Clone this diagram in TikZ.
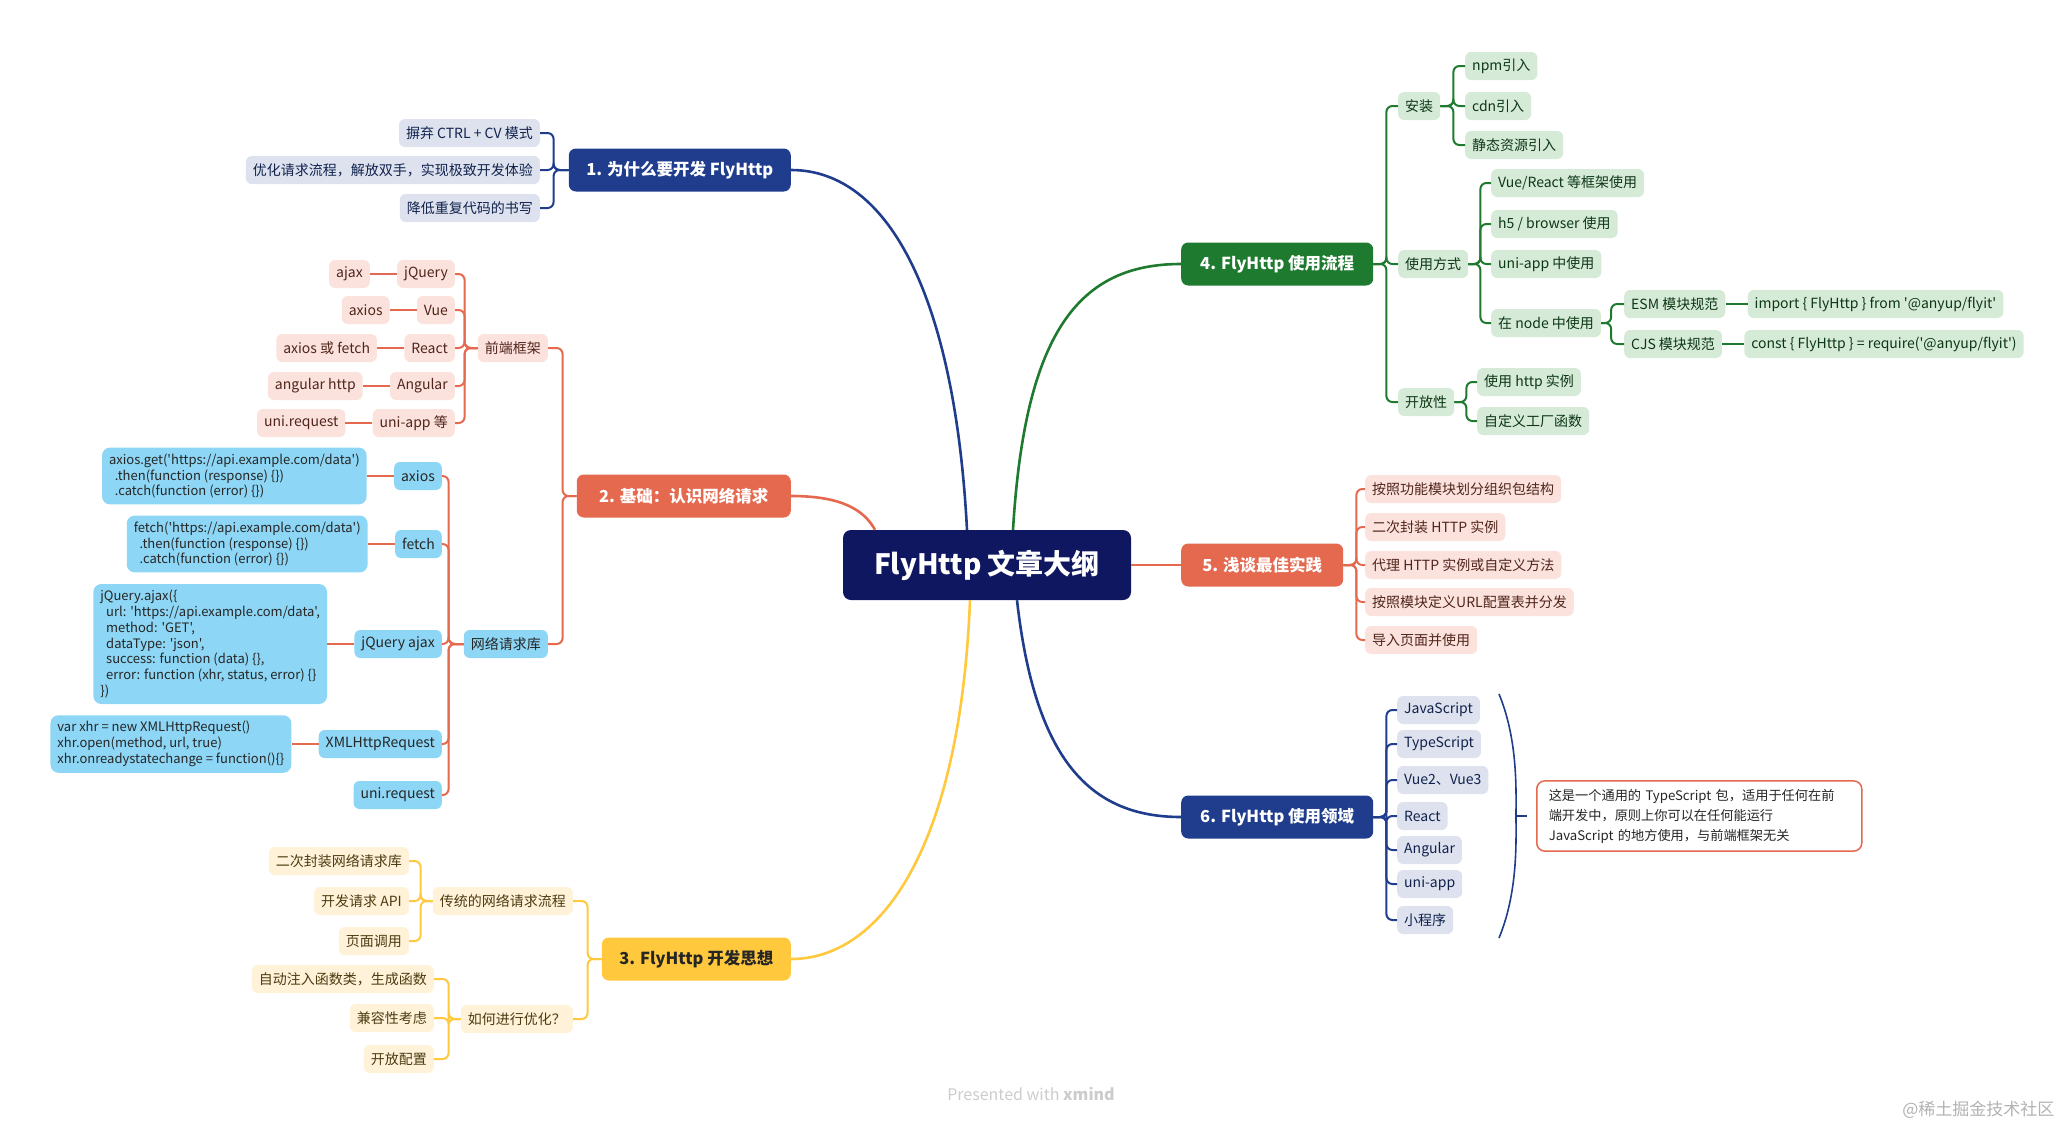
\documentclass[tikz,border=0pt]{standalone}
\usepackage{fontspec}
\setmainfont{Noto Sans CJK SC}[Ligatures=TeXOff]
\usetikzlibrary{positioning}

\definecolor{rootblue}{HTML}{0E1760}
\definecolor{navy}{HTML}{1F3D8C}
\definecolor{navylight}{HTML}{DDE2EE}
\definecolor{coral}{HTML}{E4694F}
\definecolor{corallight}{HTML}{FBE2DC}
\definecolor{skyblue}{HTML}{8DD6F5}
\definecolor{sunny}{HTML}{FFC83D}
\definecolor{sunnylight}{HTML}{FFF2D8}
\definecolor{grass}{HTML}{1D7A2E}
\definecolor{grasslight}{HTML}{D6EAD8}

\tikzset{
  root/.style={fill=rootblue, text=white, rounded corners=8pt, minimum width=288pt, minimum height=70pt, font=\fontsize{28}{33}\selectfont\bfseries},
  topic/.style={rounded corners=7pt, minimum height=43pt, inner xsep=14pt, text=white, font=\fontsize{16.5}{20}\selectfont\bfseries},
  item/.style={rounded corners=6pt, minimum height=28pt, inner xsep=7pt, inner ysep=0pt, font=\fontsize{14}{17}\selectfont},
  itemA/.style={item, fill=navylight, text=navy!55!black},
  itemP/.style={item, fill=corallight, text=coral!35!black},
  itemB/.style={item, fill=skyblue, text=black!85},
  itemY/.style={item, fill=sunnylight, text=sunny!30!black},
  itemG/.style={item, fill=grasslight, text=grass!45!black},
  code/.style={fill=skyblue, rounded corners=8pt, align=left, inner xsep=7pt, inner ysep=6pt, font=\fontsize{13}{15.8}\selectfont, text=black!85},
  link/.style={line width=2pt, rounded corners=6pt},
  trunk/.style={line width=2.6pt},
}

\begin{document}
\begin{tikzpicture}[x=1pt, y=-1pt]
  \useasboundingbox (0,0) rectangle (2064,1125);

  % ---- Root ----
  \node[root] (root) at (987,565) {FlyHttp 文章大纲};

  % ---- 1. Why ----
  \node[topic, fill=navy, anchor=east, minimum width=222pt] (b1) at (791,170) {1. 为什么要开发 FlyHttp};
  \node[itemA, anchor=east] (b1a) at (540,133) {摒弃 CTRL + CV 模式};
  \node[itemA, anchor=east] (b1b) at (540,170) {优化请求流程，解放双手，实现极致开发体验};
  \node[itemA, anchor=east] (b1c) at (540,208) {降低重复代码的书写};
  \foreach \c in {b1a,b1b,b1c}
    \draw[link, navy] (b1.west) -- ++(-15,0) |- (\c.east);
  \draw[trunk, navy] ([xshift=-20pt]root.north) .. controls (955,300) and (890,170) .. (b1.east);

  % ---- 2. Basics ----
  \node[topic, fill=coral, anchor=east, minimum width=214pt] (b2) at (791,496) {2. 基础：认识网络请求};
  \draw[trunk, coral] (b2.east) .. controls (842,496) and (864,510) .. ([xshift=-112pt]root.north);
  \node[itemP, anchor=east] (fw) at (548,348) {前端框架};
  \node[itemB, anchor=east] (lib) at (548,644) {网络请求库};
  \foreach \c in {fw,lib}
    \draw[link, coral] (b2.west) -- ++(-14,0) |- (\c.east);

  % frameworks
  \node[itemP, anchor=east] (jq) at (455,274) {jQuery};
  \node[itemP, anchor=east] (vue) at (455,310) {Vue};
  \node[itemP, anchor=east] (react) at (455,348) {React};
  \node[itemP, anchor=east] (ng) at (455,386) {Angular};
  \node[itemP, anchor=east] (uni) at (455,423) {uni-app 等};
  \node[itemP, left=27pt of jq] (jqx) {ajax};
  \node[itemP, left=27pt of vue] (vuex) {axios};
  \node[itemP, left=27pt of react] (reactx) {axios 或 fetch};
  \node[itemP, left=27pt of ng] (ngx) {angular http};
  \node[itemP, left=27pt of uni] (unix) {uni.request};
  \foreach \c in {jq,vue,react,ng,uni} {
    \draw[link, coral] (fw.west) -- ++(-13,0) |- (\c.east);
    \draw[link, coral] (\c.west) -- (\c x.east);
  }

  % request libraries
  \node[itemB, anchor=east] (ax) at (442,476) {axios};
  \node[itemB, anchor=east] (fe) at (442,544) {fetch};
  \node[itemB, anchor=east] (ja) at (442,644) {jQuery ajax};
  \node[itemB, anchor=east] (xh) at (442,744) {XMLHttpRequest};
  \node[itemB, anchor=east] (ur) at (442,795) {uni.request};
  \foreach \c in {ax,fe,ja,xh,ur}
    \draw[link, coral] (lib.west) -- ++(-15,0) |- (\c.east);
  \node[code, left=27pt of ax] (axcode) {axios.get('https://api.example.com/data')\\\ \ .then(function (response) \{\})\\\ \ .catch(function (error) \{\})};
  \node[code, left=27pt of fe] (fecode) {fetch('https://api.example.com/data')\\\ \ .then(function (response) \{\})\\\ \ .catch(function (error) \{\})};
  \node[code, left=27pt of ja] (jacode) {jQuery.ajax(\{\\\ \ url: 'https://api.example.com/data',\\\ \ method: 'GET',\\\ \ dataType: 'json',\\\ \ success: function (data) \{\},\\\ \ error: function (xhr, status, error) \{\}\\\})};
  \node[code, left=27pt of xh] (xhcode) {var xhr = new XMLHttpRequest()\\xhr.open(method, url, true)\\xhr.onreadystatechange = function()\{\}};
  \foreach \c in {ax,fe,ja,xh}
    \draw[link, coral] (\c.west) -- (\c code.east);

  % ---- 3. Ideas ----
  \node[topic, fill=sunny, text=black!85, anchor=east, minimum width=189pt] (b3) at (791,959) {3. FlyHttp 开发思想};
  \draw[trunk, sunny] ([xshift=-17pt]root.south) .. controls (960,850) and (880,959) .. (b3.east);
  \node[itemY, anchor=east] (trad) at (573,901) {传统的网络请求流程};
  \node[itemY, anchor=east] (opt) at (573,1019) {如何进行优化？};
  \foreach \c in {trad,opt}
    \draw[link, sunny] (b3.west) -- ++(-14,0) |- (\c.east);
  \node[itemY, anchor=east] (tra) at (409,861) {二次封装网络请求库};
  \node[itemY, anchor=east] (trb) at (409,901) {开发请求 API};
  \node[itemY, anchor=east] (trc) at (409,941) {页面调用};
  \foreach \c in {tra,trb,trc}
    \draw[link, sunny] (trad.west) -- ++(-12,0) |- (\c.east);
  \node[itemY, anchor=east] (opa) at (434,979) {自动注入函数类，生成函数};
  \node[itemY, anchor=east] (opb) at (434,1018) {兼容性考虑};
  \node[itemY, anchor=east] (opc) at (434,1059) {开放配置};
  \foreach \c in {opa,opb,opc}
    \draw[link, sunny] (opt.west) -- ++(-12,0) |- (\c.east);

  % ---- 4. Usage ----
  \node[topic, fill=grass, anchor=west, minimum width=192pt] (b4) at (1181,264) {4. FlyHttp 使用流程};
  \draw[trunk, grass] ([xshift=26pt]root.north) .. controls (1025,330) and (1080,264) .. (b4.west);
  \node[itemG, anchor=west] (inst) at (1398,106) {安装};
  \node[itemG, anchor=west] (use) at (1398,264) {使用方式};
  \node[itemG, anchor=west] (open) at (1398,402) {开放性};
  \foreach \c in {inst,use,open}
    \draw[link, grass] (b4.east) -- ++(13,0) |- (\c.west);
  \node[itemG, anchor=west] (npm) at (1465,66) {npm引入};
  \node[itemG, anchor=west] (cdn) at (1465,106) {cdn引入};
  \node[itemG, anchor=west] (stat) at (1465,145) {静态资源引入};
  \foreach \c in {npm,cdn,stat}
    \draw[link, grass] (inst.east) -- ++(13,0) |- (\c.west);
  \node[itemG, anchor=west] (vr) at (1491,183) {Vue/React 等框架使用};
  \node[itemG, anchor=west] (h5) at (1491,224) {h5 / browser 使用};
  \node[itemG, anchor=west] (uniu) at (1491,264) {uni-app 中使用};
  \node[itemG, anchor=west] (nd) at (1491,323) {在 node 中使用};
  \foreach \c in {vr,h5,uniu,nd}
    \draw[link, grass] (use.east) -- ++(12,0) |- (\c.west);
  \node[itemG, anchor=west] (esm) at (1624,304) {ESM 模块规范};
  \node[itemG, anchor=west] (cjs) at (1624,344) {CJS 模块规范};
  \foreach \c in {esm,cjs}
    \draw[link, grass] (nd.east) -- ++(10,0) |- (\c.west);
  \node[itemG, right=22pt of esm] (esmx) {import \{ FlyHttp \} from '@anyup/flyit'};
  \node[itemG, right=22pt of cjs] (cjsx) {const \{ FlyHttp \} = require('@anyup/flyit')};
  \foreach \c in {esm,cjs}
    \draw[link, grass] (\c.east) -- (\c x.west);
  \node[itemG, anchor=west] (hi) at (1477,382) {使用 http 实例};
  \node[itemG, anchor=west] (fac) at (1477,421) {自定义工厂函数};
  \foreach \c in {hi,fac}
    \draw[link, grass] (open.east) -- ++(12,0) |- (\c.west);

  % ---- 5. Practice ----
  \node[topic, fill=coral, anchor=west, minimum width=162pt] (b5) at (1181,565) {5. 浅谈最佳实践};
  \draw[trunk, coral] (root.east) -- (b5.west);
  \node[itemP, anchor=west] (pa) at (1365,489) {按照功能模块划分组织包结构};
  \node[itemP, anchor=west] (pb) at (1365,527) {二次封装 HTTP 实例};
  \node[itemP, anchor=west] (pc) at (1365,565) {代理 HTTP 实例或自定义方法};
  \node[itemP, anchor=west] (pd) at (1365,602) {按照模块定义URL配置表并分发};
  \node[itemP, anchor=west] (pe) at (1365,640) {导入页面并使用};
  \foreach \c in {pa,pb,pc,pd,pe}
    \draw[link, coral] (b5.east) -- ++(13,0) |- (\c.west);

  % ---- 6. Scope ----
  \node[topic, fill=navy, anchor=west, minimum width=192pt] (b6) at (1181,817) {6. FlyHttp 使用领域};
  \draw[trunk, navy] ([xshift=30pt]root.south) .. controls (1035,760) and (1090,817) .. (b6.west);
  \node[itemA, anchor=west] (sa) at (1397,710) {JavaScript};
  \node[itemA, anchor=west] (sb) at (1397,744) {TypeScript};
  \node[itemA, anchor=west] (sc) at (1397,780) {Vue2、Vue3};
  \node[itemA, anchor=west] (sd) at (1397,816) {React};
  \node[itemA, anchor=west] (se) at (1397,850) {Angular};
  \node[itemA, anchor=west] (sf) at (1397,884) {uni-app};
  \node[itemA, anchor=west] (sg) at (1397,920) {小程序};
  \foreach \c in {sa,sb,sc,sd,se,sf,sg}
    \draw[link, navy] (b6.east) -- ++(13,0) |- (\c.west);

  % summary brace
  \draw[navy, line width=1.6pt] (1499,694) .. controls (1518,740) and (1516,790) .. (1516,816)
    .. controls (1516,842) and (1518,892) .. (1499,938);
  \draw[navy, line width=1.6pt] (1516,816) -- (1527,816);
  \node[draw=coral, line width=1.5pt, fill=white, rounded corners=8pt, anchor=west, align=left,
        inner xsep=12pt, inner ysep=8pt, text width=301pt,
        font=\fontsize{13.2}{20}\selectfont, text=black!85] (note) at (1536,816)
    {这是一个通用的 TypeScript 包，适用于任何在前\\端开发中，原则上你可以在任何能运行\\JavaScript 的地方使用，与前端框架无关};

  % ---- watermarks ----
  \node[text=gray!40, font=\fontsize{16}{19}\selectfont] (wm) at (1031,1094) {Presented with \textbf{xmind}};
  \node[text=gray!60, anchor=east, font=\fontsize{17}{20}\selectfont] (jj) at (2058,1110) {@稀土掘金技术社区};
\end{tikzpicture}
\end{document}
